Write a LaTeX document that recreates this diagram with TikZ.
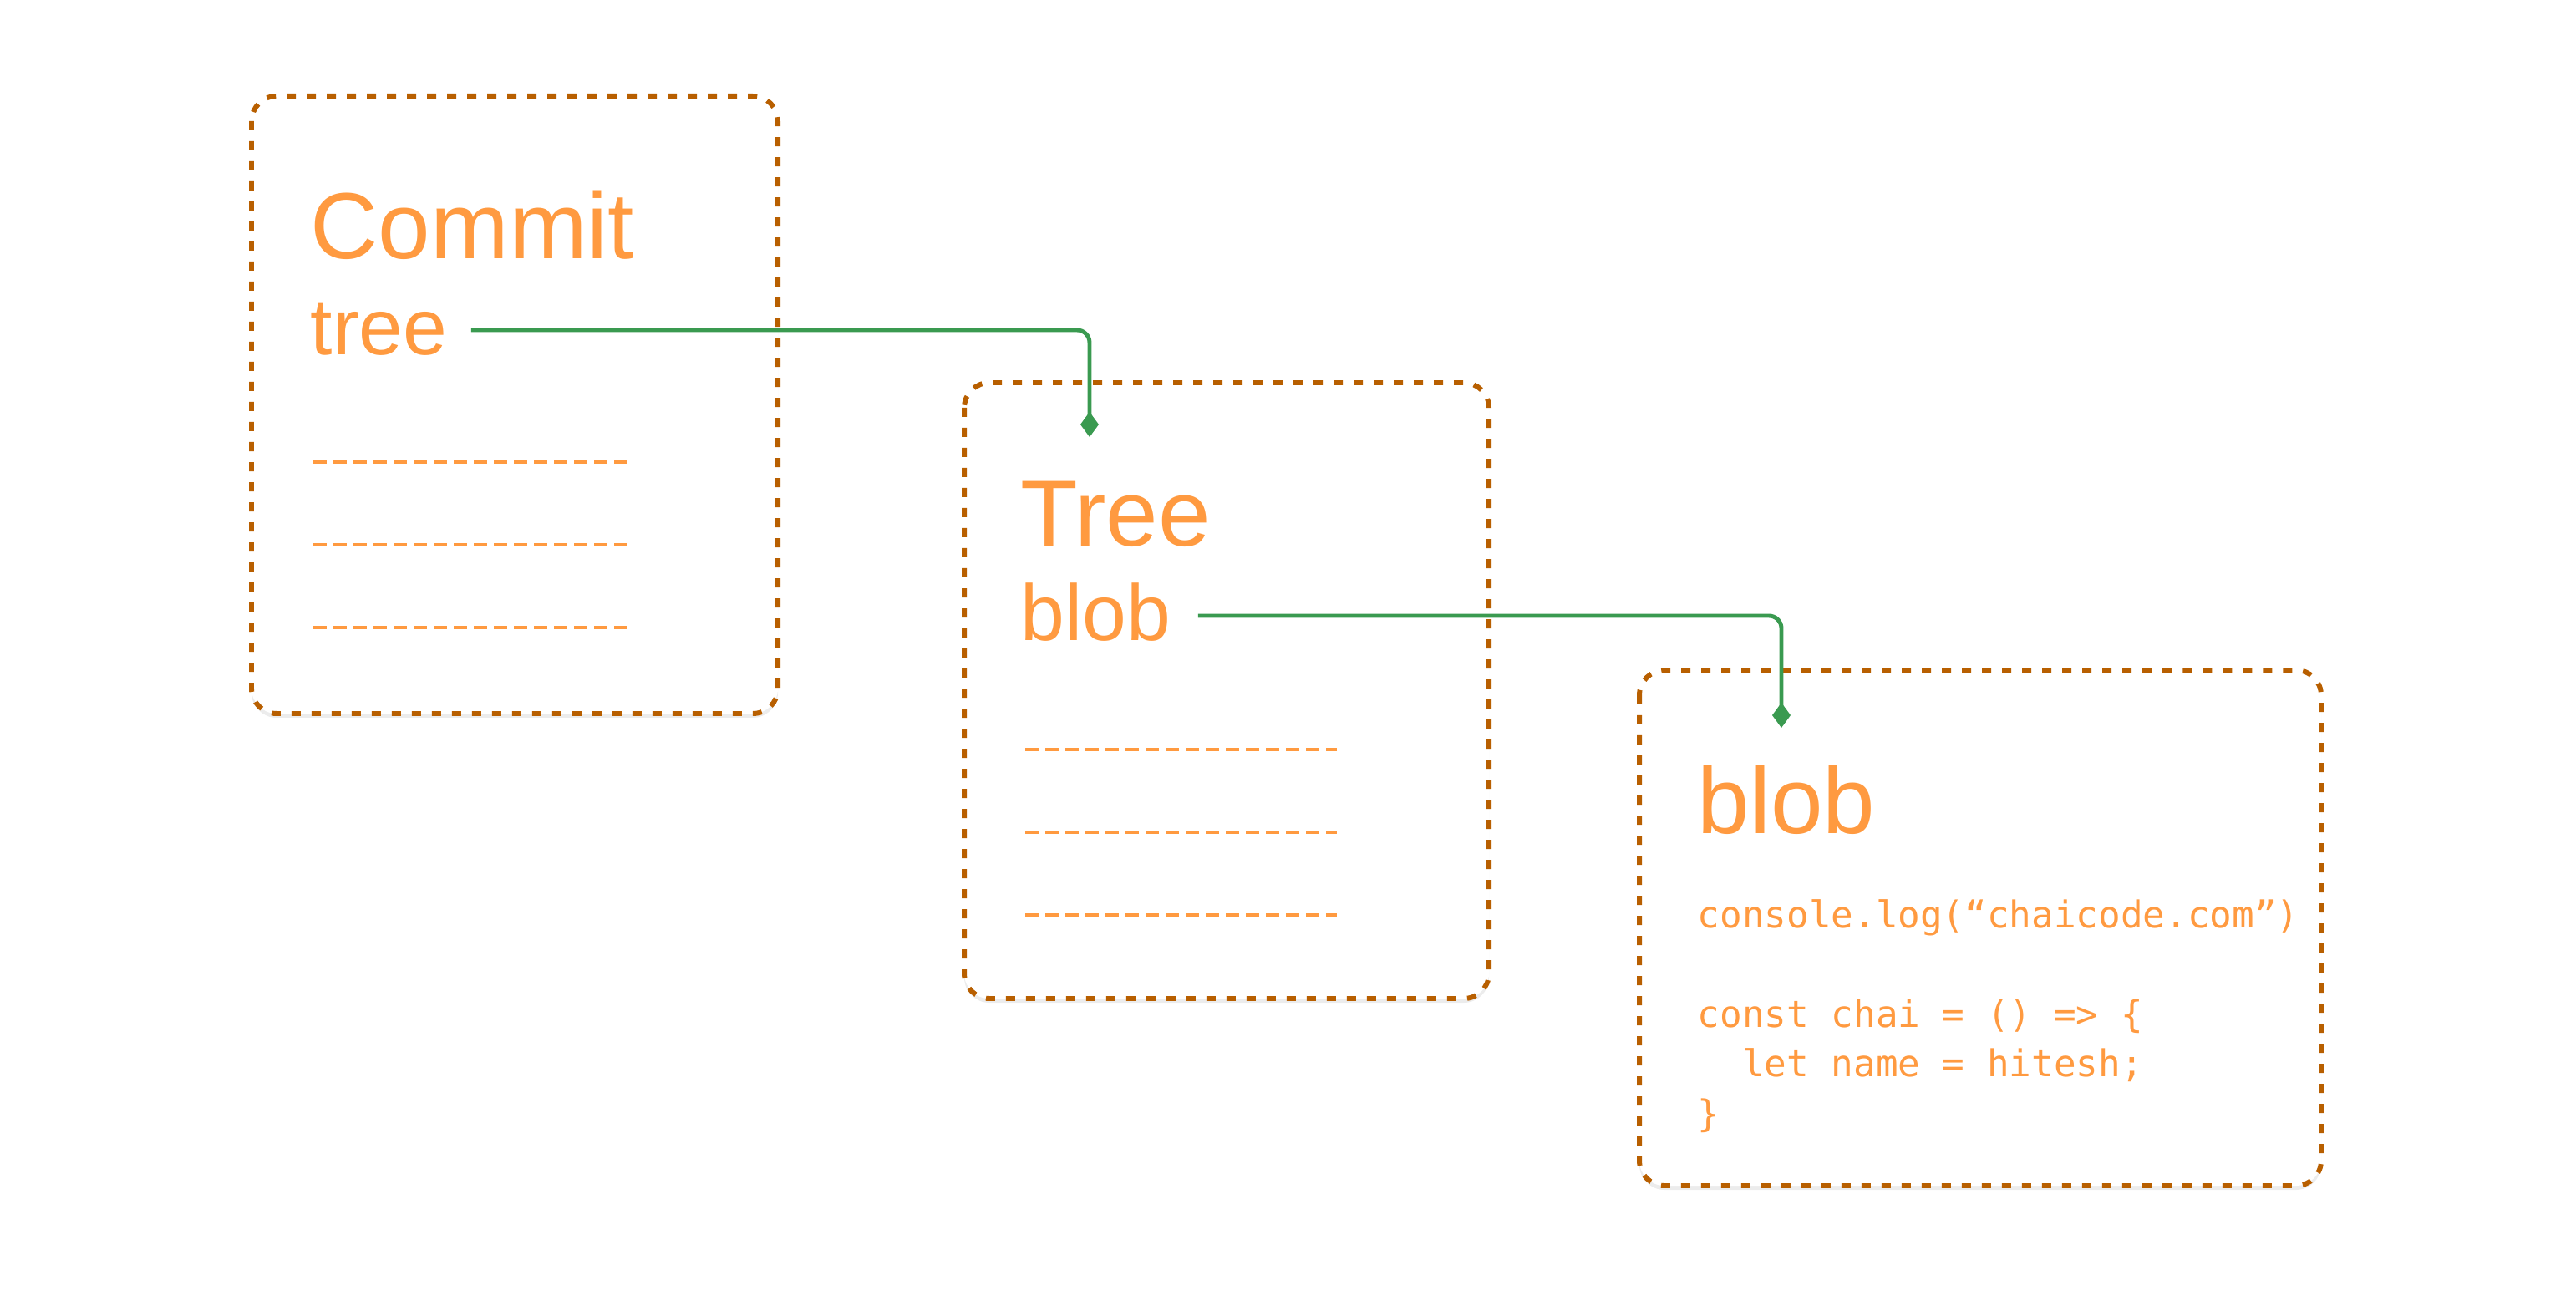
\documentclass[tikz,border=0pt]{standalone}
\usepackage{fontspec}
\setmainfont{Liberation Sans}
\setmonofont{DejaVu Sans Mono}
\usetikzlibrary{arrows.meta,shadows}
\definecolor{boxline}{HTML}{B85F00}
\definecolor{txt}{HTML}{FF9A40}
\definecolor{link}{HTML}{3A9A50}
\tikzset{
	obj/.style    = {draw=boxline, line width=1.7pt, dash pattern=on 0.11cm off 0.13cm,
		rounded corners=0.3cm, fill=white, drop shadow={opacity=0.15, shadow xshift=0pt, shadow yshift=-0.05cm}},
	title/.style  = {anchor=base west, inner sep=0pt, text=txt, font=\fontsize{32}{36}\selectfont},
	field/.style  = {anchor=base west, inner sep=0pt, text=txt, font=\fontsize{27}{30}\selectfont},
	code/.style   = {anchor=base west, inner sep=0pt, text=txt, font=\ttfamily\fontsize{12.6}{15}\selectfont},
	filler/.style = {txt, line width=1.3pt, dash pattern=on 0.16cm off 0.08cm},
	ref/.style    = {link, line width=1.4pt, rounded corners=0.15cm, -{Diamond[length=0.3cm,width=0.22cm]}}
}

\begin{document}
\begin{tikzpicture}[x=1cm, y=1cm]
	\useasboundingbox (0,0) rectangle (30.83,-15.57);
	% boxes
	\draw[obj] (3.01,-1.15) rectangle (9.31,-8.54);
	\draw[obj] (11.54,-4.58) rectangle (17.82,-11.95);
	\draw[obj] (19.62,-8.02) rectangle (27.78,-14.19);
	
	% commit
	\node[title] (commit) at (3.71,-3.10) {Commit};
	\node[field] (ctree) at (3.71,-4.25) {tree};
	\foreach \y in {5.53,6.52,7.51}
		\draw[filler] (3.75,-\y) -- (7.51,-\y);
	
	% tree
	\node[title] (tree) at (12.21,-6.54) {Tree};
	\node[field] (tblob) at (12.21,-7.67) {blob};
	\foreach \y in {8.97,9.96,10.95}
		\draw[filler] (12.27,-\y) -- (16.00,-\y);
	
	% blob
	\node[title] (blob) at (20.31,-9.98) {blob};
	\node[code] (l1) at (20.31,-11.10) {console.log(“chaicode.com”)};
	\node[code] (l2) at (20.31,-12.29) {const chai = () => \{};
	\node[code] (l3) at (20.31,-12.88) {\ \ let name = hitesh;};
	\node[code] (l4) at (20.31,-13.48) {\}};
	
	% references
	\coordinate (tin) at (13.04,-5.23);
	\coordinate (bin) at (21.32,-8.71);
	\draw[ref] ([xshift=0.28cm,yshift=0.3cm]ctree.base east) -| (tin);
	\draw[ref] ([xshift=0.32cm,yshift=0.3cm]tblob.base east) -| (bin);
\end{tikzpicture}
\end{document}
